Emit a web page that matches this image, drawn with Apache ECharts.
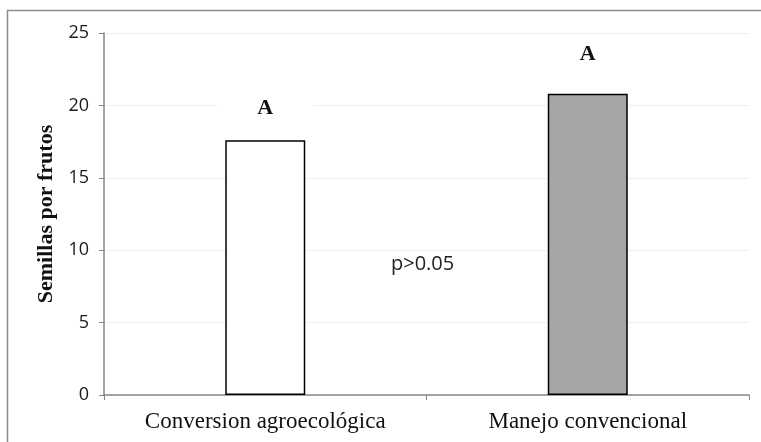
<!DOCTYPE html>
<html><head><meta charset="utf-8">
<script src="https://cdn.jsdelivr.net/npm/echarts@6/dist/echarts.min.js"></script>
<style>html,body{margin:0;padding:0;background:#fff}#c{width:761px;height:442px}</style>
</head><body><div id="c"></div>
<script>
const categories = ['Conversion agroecológica', 'Manejo convencional'];
const values = [17.6, 20.8];
const letters = ['A', 'A'];
const barColors = ['#ffffff', '#a6a6a6'];
const letterGaps = [19, 27];
const yTicks = {min: 0, max: 25, interval: 5};
const note = 'p>0.05';

const chart = echarts.init(document.getElementById('c'));
chart.setOption({
  animation: false,
  backgroundColor: '#fff',
  graphic: [
    {type: 'polyline', shape: {points: [[7.5, 460], [7.5, 10.5], [780, 10.5]]}, style: {fill: 'none', stroke: '#8c8c8c', lineWidth: 1.5}, z: -1},
    {type: 'text', left: 391, top: 254, style: {text: note, font: '20px "Open Sans", sans-serif', fill: '#222'}}
  ],
  grid: {left: 104, right: 12, top: 33, bottom: 47},
  xAxis: {
    type: 'category', data: categories,
    axisLine: {lineStyle: {color: '#868686', width: 1.5}},
    axisTick: {show: true, length: 5, lineStyle: {color: '#868686'}},
    axisLabel: {color: '#111', fontFamily: '"Liberation Serif", serif', fontSize: 23, margin: 15}
  },
  yAxis: {
    type: 'value', min: yTicks.min, max: yTicks.max, interval: yTicks.interval,
    name: 'Semillas por frutos', nameLocation: 'middle', nameGap: 46,
    nameTextStyle: {fontFamily: '"Liberation Serif", serif', fontWeight: 'bold', fontSize: 22, color: '#111'},
    axisLine: {show: true, lineStyle: {color: '#868686', width: 1.5}},
    axisTick: {show: true, length: 5, lineStyle: {color: '#868686'}},
    axisLabel: {color: '#1a1a1a', fontFamily: '"Open Sans", sans-serif', fontSize: 18, margin: 15},
    splitLine: {lineStyle: {color: '#efefef'}}
  },
  series: [{
    type: 'bar', barWidth: 80,
    data: values.map((v, i) => ({
      value: v,
      itemStyle: {color: barColors[i], borderColor: '#000', borderWidth: 1.5},
      label: {show: true, position: 'top', distance: letterGaps[i], formatter: letters[i],
        fontFamily: '"Liberation Serif", serif', fontWeight: 'bold', fontSize: 22, color: '#111',
        backgroundColor: '#fff', padding: [2, 40]}
    }))
  }]
});
</script></body></html>
